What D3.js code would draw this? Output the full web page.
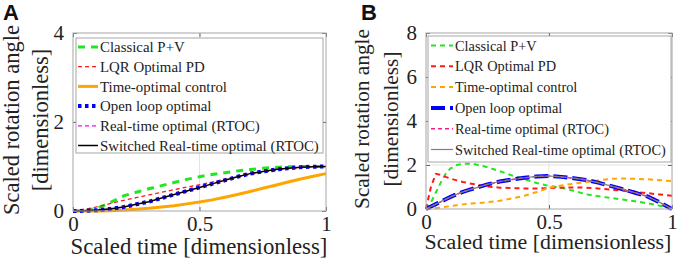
<!DOCTYPE html>
<html>
<head>
<meta charset="UTF-8">
<script src="https://d3js.org/d3.v7.min.js"></script>
<style>
  body { margin: 0; background: #fff; }
  svg { display: block; }
</style>
</head>
<body>
<div id="chart"></div>
<script>
const W = 678, H = 260;
const SERIF = "'Liberation Serif', 'DejaVu Serif', 'Noto Serif', serif";

// legend labels (same for both panels)
const seriesNames = ["Classical P+V", "LQR Optimal PD", "Time-optimal control",
  "Open loop optimal", "Real-time optimal (RTOC)", "Switched Real-time optimal (RTOC)"];

// panel A
const tA = [0, 0.05, 0.1, 0.15, 0.2, 0.25, 0.3, 0.35, 0.4, 0.45, 0.5,
  0.55, 0.6, 0.65, 0.7, 0.75, 0.8, 0.85, 0.9, 0.95, 1];
const classicalA = [0, .01, .07, .2, .34, .42, .5, .57, .64, .71, .77, .82, .86, .9, .93, .96, .98, .995, 1, 1, 1];
const lqrA = [0, .04, .1, .17, .24, .3, .36, .42, .48, .54, .59, .65, .71, .77, .82, .87, .91, .95, .98, .99, 1];
const timeOptA = [0, 0, .002, .008, .02, .04, .06, .09, .12, .16, .2, .25, .31, .37, .44, .51, .58, .65, .72, .78, .84];
const openLoopA = [0, .005, .02, .05, .09, .15, .21, .29, .37, .45, .53, .61, .69, .77, .84, .89, .93, .96, .985, .995, 1];
const rtocA = openLoopA;
const switchedA = openLoopA;

// panel B
const tB = [0, .02, .04, .06, .08, .1, .125, .15, .175, .2, .25, .3, .35, .4, .45, .5,
  .55, .6, .65, .7, .75, .8, .85, .9, .95, 1];
const classicalB = [0, .3, .75, 1.2, 1.6, 1.85, 2.0, 2.05, 2.06, 2.03, 1.9, 1.72, 1.52, 1.36, 1.18, 1.05,
  .97, .83, .67, .58, .5, .43, .35, .26, .15, .03];
const lqrB = [0, 1.0, 1.6, 1.55, 1.46, 1.38, 1.3, 1.23, 1.17, 1.12, 1.02, .97, .95, .93, .93, .95,
  .97, .98, .97, .93, .88, .83, .78, .72, .66, .6];
const timeOptB = [0, .02, .04, .07, .1, .13, .17, .21, .24, .26, .31, .38, .48, .6, .77, .97,
  1.07, 1.15, 1.22, 1.3, 1.37, 1.39, 1.37, 1.35, 1.31, 1.27];
const openLoopB = [0, .11, .22, .33, .44, .55, .67, .78, .87, .95, 1.12, 1.25, 1.34, 1.42, 1.48, 1.5,
  1.46, 1.4, 1.32, 1.2, 1.05, .9, .74, .57, .3, 0];
const rtocB = openLoopB;
const switchedB = openLoopB;

const xTicks = [0, 0.5, 1];
const yTicksA = [0, 2, 4];
const yTicksB = [0, 2, 4, 6, 8];

const stylesA = [
  { color: "#22e622", width: 3, dash: "7,6" },
  { color: "#ff1a1a", width: 1.3, dash: "4,3" },
  { color: "#ffa500", width: 3, dash: null },
  { color: "#0000ff", width: 4, dash: "3.5,3.5" },
  { color: "#ff00ff", width: 1.3, dash: "4,3" },
  { color: "#000000", width: 1.5, dash: null }
];
const stylesB = [
  { color: "#22e622", width: 2, dash: "5,4" },
  { color: "#ff1a1a", width: 2, dash: "5,4" },
  { color: "#ffa500", width: 2, dash: "5,4" },
  { color: "#0000ff", width: 4, dash: "14,5" },
  { color: "#ff1a8c", width: 1.5, dash: "4,3" },
  { color: "#808080", width: 1.2, dash: null }
];

const svg = d3.select("#chart").append("svg").attr("width", W).attr("height", H);

// scale font size so a text spans the wanted width
function fit(sel, target) {
  const fs = +sel.attr("font-size");
  const w = sel.node().getComputedTextLength();
  const nfs = fs * target / w;
  sel.attr("font-size", nfs);
  return nfs;
}

function panel(cfg) {
  const x = d3.scaleLinear().domain([0, 1]).range([cfg.left, cfg.right]);
  const y = d3.scaleLinear().domain([0, cfg.ymax]).range([cfg.bottom, cfg.top]);
  const g = svg.append("g");

  // grid
  g.append("g").selectAll("line").data(xTicks.slice(1, -1)).join("line")
    .attr("x1", d => x(d)).attr("x2", d => x(d)).attr("y1", cfg.top).attr("y2", cfg.bottom)
    .attr("stroke", "#e4e4e4");
  g.append("g").selectAll("line").data(cfg.yTicks.slice(1, -1)).join("line")
    .attr("y1", d => y(d)).attr("y2", d => y(d)).attr("x1", cfg.left).attr("x2", cfg.right)
    .attr("stroke", "#e4e4e4");

  // curves
  const line = d3.line().x(d => x(d[0])).y(d => y(d[1]));
  cfg.series.forEach((s, i) => {
    const st = cfg.styles[i];
    g.append("path").datum(cfg.t.map((tt, j) => [tt, s[j]]))
      .attr("d", line).attr("fill", "none")
      .attr("stroke", st.color).attr("stroke-width", st.width)
      .attr("stroke-dasharray", st.dash);
  });

  // axes, ticks pointing inward
  const ax = (a, tr, lab) => {
    const gg = g.append("g").attr("transform", tr).call(a)
      .attr("font-family", SERIF).attr("font-size", 21);
    gg.select(".domain").remove();
    gg.selectAll(".tick line").attr("stroke", "#666");
    if (!lab) gg.selectAll(".tick text").remove();
    gg.selectAll(".tick text").attr("fill", "#222");
    return gg;
  };
  ax(d3.axisBottom(x).tickValues(xTicks).tickSize(-4).tickPadding(5).tickFormat(d3.format("")),
    `translate(0,${cfg.bottom})`, true);
  ax(d3.axisTop(x).tickValues(xTicks).tickSize(-4), `translate(0,${cfg.top})`, false);
  ax(d3.axisLeft(y).tickValues(cfg.yTicks).tickSize(-4).tickPadding(9).tickFormat(d3.format("d")),
    `translate(${cfg.left},0)`, true);
  ax(d3.axisRight(y).tickValues(cfg.yTicks).tickSize(-4), `translate(${cfg.right},0)`, false);

  g.append("rect").attr("x", cfg.left).attr("y", cfg.top)
    .attr("width", cfg.right - cfg.left).attr("height", cfg.bottom - cfg.top)
    .attr("fill", "none").attr("stroke", "#a6a6a6");

  // legend
  const L = cfg.legend;
  const lg = g.append("g");
  lg.append("rect").attr("x", L.x).attr("y", L.y).attr("width", L.w).attr("height", L.h)
    .attr("fill", "#fff").attr("stroke", "#a6a6a6");
  const texts = [];
  seriesNames.forEach((name, i) => {
    const st = cfg.styles[i];
    const yy = L.y + L.first + i * L.step;
    lg.append("line").attr("x1", L.x + L.s0).attr("x2", L.x + L.s1)
      .attr("y1", yy).attr("y2", yy)
      .attr("stroke", st.color).attr("stroke-width", st.width)
      .attr("stroke-dasharray", st.dash);
    texts.push(lg.append("text").attr("x", L.x + L.s1 + 2).attr("y", yy).attr("dy", "0.35em")
      .attr("font-family", SERIF).attr("font-size", 15).attr("fill", "#222")
      .text(name));
  });
  const lfs = fit(texts[5], L.textW);
  texts.forEach(t => t.attr("font-size", lfs));

  // axis titles
  const xl = svg.append("text").attr("x", cfg.xlabX).attr("y", cfg.xlabY)
    .attr("text-anchor", "middle").attr("font-family", SERIF)
    .attr("font-size", 22).attr("fill", "#222").text("Scaled time [dimensionless]");
  fit(xl, cfg.xlabW);
  const yl = svg.append("text").attr("transform", `translate(${cfg.ylabX},${cfg.ylabY}) rotate(-90)`)
    .attr("text-anchor", "middle").attr("font-family", SERIF)
    .attr("font-size", 21).attr("fill", "#222");
  const l1 = yl.append("tspan").attr("x", 0).attr("dy", 0).text("Scaled rotation angle");
  yl.append("tspan").attr("x", 0).attr("dy", 29).text("[dimensionless]");
  const w1 = l1.node().getComputedTextLength();
  yl.attr("font-size", 21 * cfg.ylabW / w1);

  svg.append("text").attr("x", cfg.letterX).attr("y", 20)
    .attr("font-family", "'Liberation Sans', Arial, sans-serif").attr("font-weight", "bold")
    .attr("font-size", 22).attr("fill", "#111").text(cfg.letter);
}

panel({
  left: 73, right: 326, top: 33, bottom: 211, ymax: 4, yTicks: yTicksA,
  t: tA, series: [classicalA, lqrA, timeOptA, openLoopA, rtocA, switchedA], styles: stylesA,
  legend: { x: 76, y: 38, w: 247, h: 115, first: 9, step: 19.7, s0: 2, s1: 22, textW: 219 },
  xlabX: 199, xlabY: 254, xlabW: 257,
  ylabX: 19, ylabY: 120, ylabW: 190,
  letter: "A", letterX: 3
});
panel({
  left: 426, right: 672, top: 33, bottom: 209, ymax: 8, yTicks: yTicksB,
  t: tB, series: [classicalB, lqrB, timeOptB, openLoopB, rtocB, switchedB], styles: stylesB,
  legend: { x: 428, y: 36, w: 243, h: 126, first: 9.5, step: 20.8, s0: 3, s1: 25, textW: 211 },
  xlabX: 548, xlabY: 249, xlabW: 247,
  ylabX: 369, ylabY: 119, ylabW: 180,
  letter: "B", letterX: 361
});
</script>
</body>
</html>
